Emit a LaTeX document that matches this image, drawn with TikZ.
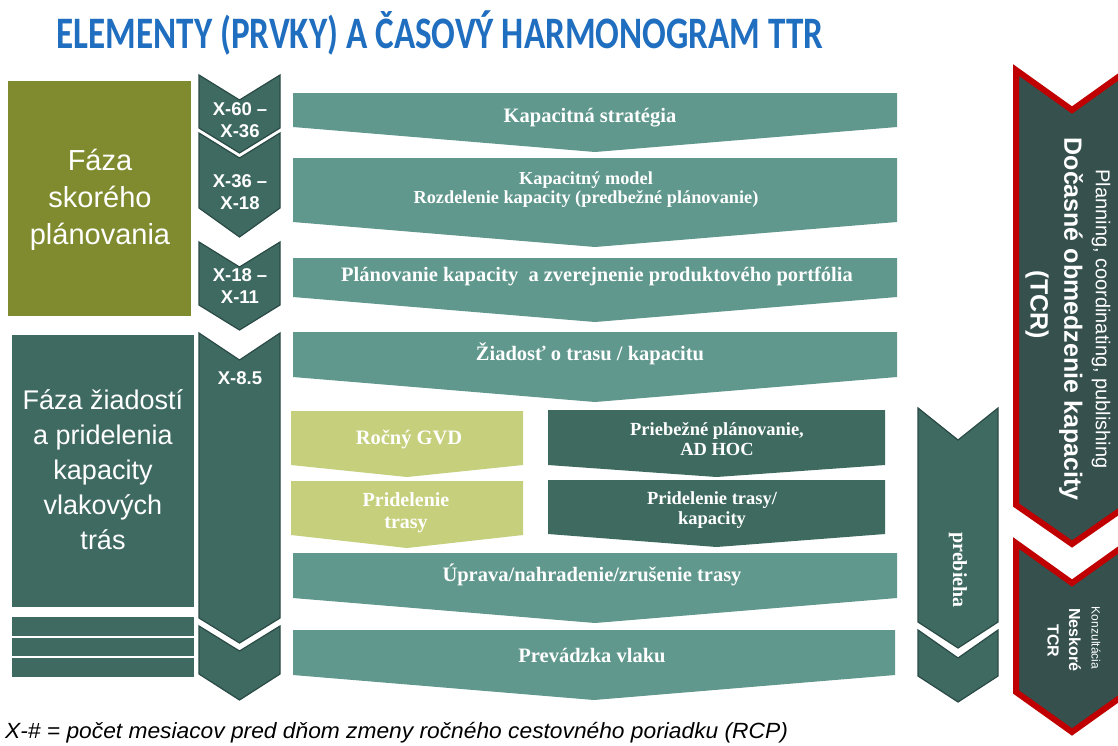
\documentclass[tikz,border=0pt]{standalone}
\usepackage{fontspec}
\setmainfont{Liberation Serif}
\setsansfont{Liberation Sans}
\newfontfamily\titlefont{Carlito}
\definecolor{cteal}{HTML}{60988D}
\definecolor{cdark}{HTML}{3F6A62}
\definecolor{cdarkline}{HTML}{2A4A45}
\definecolor{cdarkbox}{HTML}{3E6A60}
\definecolor{colive}{HTML}{7F8B2E}
\definecolor{clight}{HTML}{C6CF7C}
\definecolor{cred}{HTML}{C00000}
\definecolor{credfill}{HTML}{35504D}
\definecolor{ctitle}{HTML}{1F6EBF}
\newcommand\mychev[7]{\path[#1] (#2,#4) -- ({(#2+#3)/2},#5) -- (#3,#4) -- (#3,#6) -- ({(#2+#3)/2},#7) -- (#2,#6) -- cycle;}
\tikzset{
  colchev/.style={fill=cdark, draw=cdarkline, line width=1.2pt, line join=miter},
  mainchev/.style={fill=cteal},
  lightchev/.style={fill=clight},
  darkchev/.style={fill=cdarkbox},
  redchev/.style={fill=credfill, draw=cred, line width=6pt, line join=miter},
  ltext/.style={text=white, font=\sffamily\fontsize{29}{37}\selectfont, align=center, inner sep=0pt},
  ctext/.style={text=white, font=\sffamily\bfseries\fontsize{18.5}{22.5}\selectfont, align=center, inner sep=0pt},
  mtext/.style={text=white, font=\rmfamily\bfseries\fontsize{20.5}{22}\selectfont, align=center, inner sep=0pt},
  stext/.style={text=white, font=\rmfamily\bfseries\fontsize{18.3}{19}\selectfont, align=center, inner sep=0pt},
  vtext/.style={text=white, rotate=-90, inner sep=0pt},
}
\begin{document}
\begin{tikzpicture}[x=1pt,y=-1pt]
\useasboundingbox (0,0) rectangle (1118,745);
\clip (0,0) rectangle (1118,745);
\fill[white] (0,0) rectangle (1118,745);

% title
\node[text=ctitle, font=\titlefont\bfseries\fontsize{45}{48}\selectfont, inner sep=0pt] (title) at (440,33) {\scalebox{0.78}[1]{ELEMENTY (PRVKY) A ČASOVÝ HARMONOGRAM TTR}};

% left phase boxes
\fill[colive] (8,81) rectangle (191,316);
\fill[cdark] (12,335) rectangle (194,607);
\fill[cdark] (12,617) rectangle (194,636);
\fill[cdark] (12,638) rectangle (194,656);
\fill[cdark] (12,658) rectangle (194,677);
\node[ltext] (phase1) at (100,200) {Fáza\\skorého\\plánovania};
\node[ltext, font=\sffamily\fontsize{27}{35}\selectfont] (phase2) at (103,470) {Fáza žiadostí\\a pridelenia\\kapacity\\vlakových\\trás};

% time chevrons
\mychev{colchev}{199}{280}{75}{100}{128}{153}
\mychev{colchev}{199}{280}{133}{158}{208}{237}
\mychev{colchev}{199}{280}{242}{267}{305}{330}
\mychev{colchev}{199}{280}{333}{360}{618}{643}
\mychev{colchev}{199}{280}{626}{651}{674}{700}
\node[ctext] (t1) at (240,120) {X-60 –\\X-36};
\node[ctext] (t2) at (240,192) {X-36 –\\X-18};
\node[ctext] (t3) at (240,286) {X-18 –\\X-11};
\node[ctext] (t4) at (240,378) {X-8.5};

% main process chevrons
\mychev{mainchev}{293}{897}{93}{93}{127}{152}
\mychev{mainchev}{293}{897}{158}{158}{222}{247}
\mychev{mainchev}{293}{897}{258}{258}{297}{322}
\mychev{mainchev}{293}{897}{332}{332}{377}{402}
\mychev{lightchev}{291}{523}{411}{411}{465}{477}
\mychev{lightchev}{291}{523}{481}{481}{535}{548}
\mychev{darkchev}{548}{885}{410}{410}{465}{477}
\mychev{darkchev}{548}{885}{480}{480}{534}{547}
\mychev{mainchev}{293}{897}{553}{553}{598}{623}
\mychev{mainchev}{293}{895}{630}{630}{675}{700}

\node[mtext] (m1) at (590,118) {Kapacitná stratégia};
\node[stext] (m2) at (586,190) {Kapacitný model\\Rozdelenie kapacity (predbežné plánovanie)};
\node[mtext] (m3) at (597,276) {Plánovanie kapacity\ \ a zverejnenie produktového portfólia};
\node[mtext] (m4) at (590,354) {Žiadosť o trasu / kapacitu};
\node[mtext] (l1) at (409,439) {Ročný GVD};
\node[mtext, font=\rmfamily\bfseries\fontsize{20}{22}\selectfont] (l2) at (406,513) {Pridelenie\\trasy};
\node[stext, font=\rmfamily\bfseries\fontsize{18.5}{20}\selectfont] (r1) at (717,439) {Priebežné plánovanie,\\AD HOC};
\node[stext, font=\rmfamily\bfseries\fontsize{18.5}{20}\selectfont] (r2) at (712,510) {Pridelenie trasy/\\kapacity};
\node[mtext] (m5) at (592,575) {Úprava/nahradenie/zrušenie trasy};
\node[mtext] (m6) at (592,655) {Prevádzka vlaku};

% prebieha
\mychev{colchev}{918}{998}{408}{440}{622}{648}
\mychev{colchev}{918}{998}{630}{658}{676}{702}
\node[vtext, font=\rmfamily\bfseries\fontsize{20}{22}\selectfont] (preb) at (958,570) {prebieha};

% TCR red chevrons
\mychev{redchev}{1016}{1128}{70}{110}{505}{544}
\mychev{redchev}{1016}{1128}{543}{583}{692}{732}
\node[vtext, font=\sffamily\fontsize{20}{22}\selectfont] (plan) at (1101,319) {Planning, coordinating, publishing};
\node[vtext, font=\sffamily\bfseries\fontsize{25}{28}\selectfont] (tcr1) at (1071,319) {Dočasné obmedzenie kapacity};
\node[vtext, font=\sffamily\bfseries\fontsize{25}{28}\selectfont] (tcr2) at (1037,305) {(TCR)};
\node[vtext, font=\sffamily\fontsize{12}{14}\selectfont] (konz) at (1096,638) {Konzultácia};
\node[vtext, font=\sffamily\bfseries\fontsize{16}{18}\selectfont] (nesk) at (1075,640) {Neskoré};
\node[vtext, font=\sffamily\bfseries\fontsize{16}{18}\selectfont] (tcr3) at (1053,641) {TCR};

% footer
\node[anchor=west, font=\sffamily\itshape\fontsize{22}{24}\selectfont, text=black, inner sep=0pt] (foot) at (5,733) {\scalebox{1.035}[1]{X-\# = počet mesiacov pred dňom zmeny ročného cestovného poriadku (RCP)}};
\end{tikzpicture}
\end{document}
